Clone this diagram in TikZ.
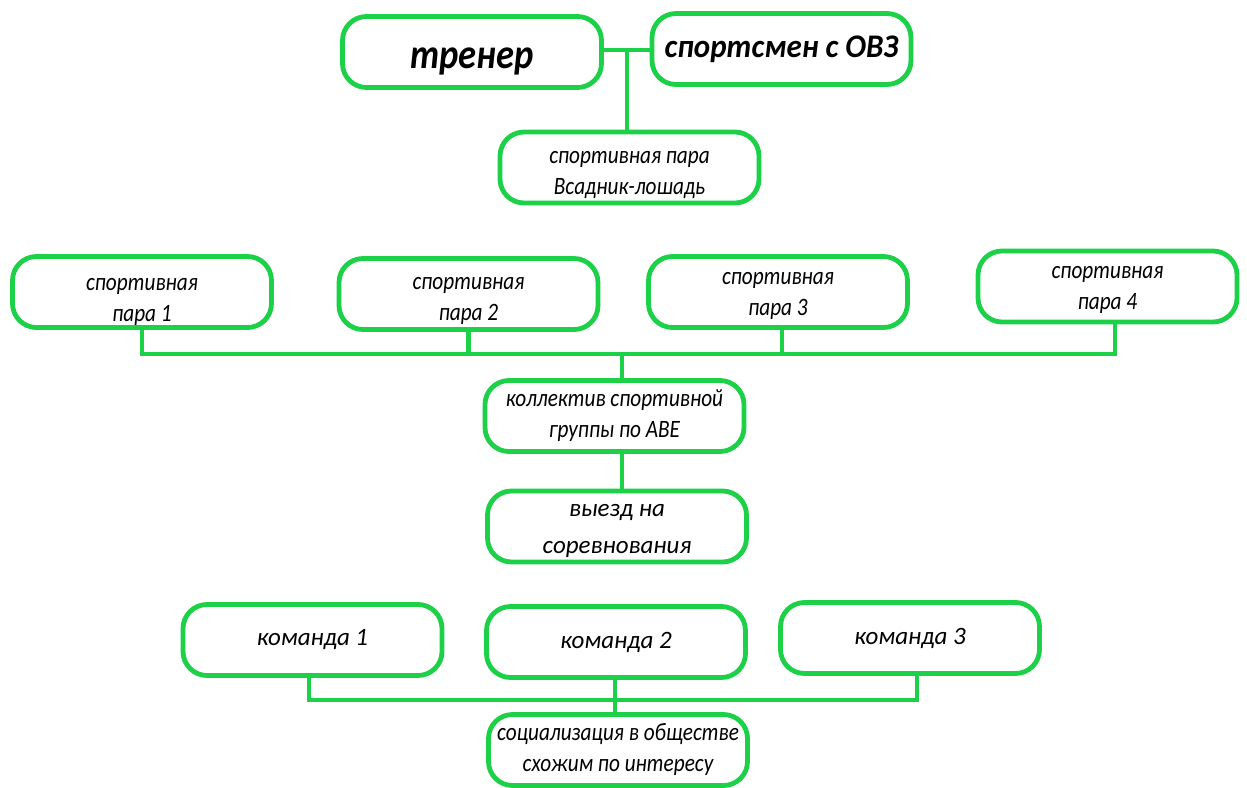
\documentclass[tikz,border=0pt]{standalone}
\usepackage{fontspec}
\setmainfont{Carlito}
\newfontfamily\nfc{Carlito}[FakeStretch=0.85]
\newfontfamily\nfn{Carlito}[FakeStretch=1.0]
\newfontfamily\nfb{Carlito}[FakeStretch=0.87]
\newfontfamily\nfw{Carlito}[FakeStretch=0.94]
\newcommand\tdn[1]{\rule{0pt}{#1pt}}
\definecolor{bgreen}{RGB}{28,208,72}
\begin{document}
\begin{tikzpicture}[x=1pt,y=-1pt,
  box/.style={draw=bgreen, line width=4.8, rounded corners=24, fill=white,
    minimum width=259, minimum height=71, align=center, inner sep=2,
    font=\nfc\itshape\fontsize{25}{31}\selectfont},
  wbox/.style={box, font=\nfn\itshape\fontsize{25}{37}\selectfont},
  conn/.style={draw=bgreen, line width=4.8}]
\useasboundingbox (0,0) rectangle (1247,787);
\node[box, font=\nfb\bfseries\itshape\fontsize{42}{44}\selectfont] (tr) at (472,52) {\tdn{40}тренер};
\node[box, font=\nfw\bfseries\itshape\fontsize{33}{40}\selectfont] (sp) at (781.5,49) {спортсмен с ОВЗ};
\node[box] (pair) at (629.5,167.5) {\tdn{27}спортивная пара\\Всадник-лошадь};
\node[box] (p1) at (142,292) {\tdn{32}спортивная\\пара 1};
\node[box] (p2) at (468.5,294) {\tdn{26}спортивная\\пара 2};
\node[box] (p3) at (778,292) {\tdn{20}спортивная\\пара 3};
\node[box] (p4) at (1107.5,286.5) {\tdn{19}спортивная\\пара 4};
\node[box] (kol) at (614.5,416) {коллектив спортивной\\группы по АВЕ};
\node[wbox] (vy) at (617,526.5) {\tdn{22}выезд на\\соревнования};
\node[wbox] (k1) at (312.5,640) {команда 1};
\node[wbox] (k2) at (616,642) {команда 2};
\node[wbox] (k3) at (910,638) {команда 3};
\node[box] (soc) at (618,750) {социализация в обществе\\схожим по интересу};
\coordinate (j1) at (627,50);
\coordinate (b1) at (622,354);
\coordinate (b2) at (615,700);
\draw[conn] (tr.east |- j1) -- (sp.west |- j1);
\draw[conn] (j1) -- (pair.north -| j1);
\draw[conn] (p1.south) -- (p1.south |- b1) -- ([xshift=7.5]p4.south |- b1) -- ([xshift=7.5]p4.south);
\draw[conn] (p2.south) -- (p2.south |- b1);
\draw[conn] ([xshift=4]p3.south) -- ([xshift=4]p3.south |- b1);
\draw[conn] (b1) -- (kol.north -| b1);
\draw[conn] (kol.south -| b1) -- (vy.north -| b1);
\draw[conn] ([xshift=-3.5]k1.south) -- ([xshift=-3.5]k1.south |- b2) -- ([xshift=7]k3.south |- b2) -- ([xshift=7]k3.south);
\draw[conn] (k2.south -| b2) -- (soc.north -| b2);
\end{tikzpicture}
\end{document}
